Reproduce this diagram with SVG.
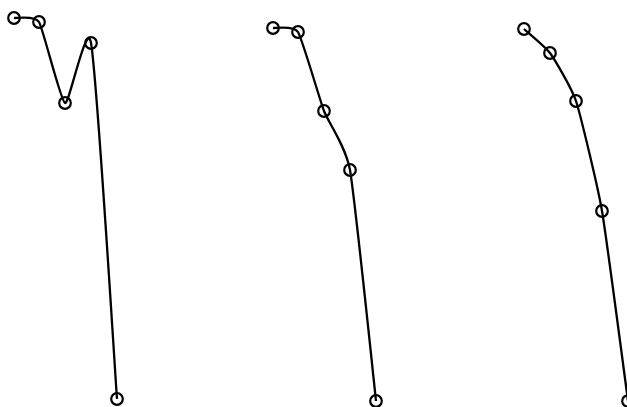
<svg xmlns="http://www.w3.org/2000/svg" width="627" height="407" viewBox="0 0 627 407">
<style>
.curve{fill:none;stroke:#000;stroke-width:2.3}
.pt{fill:none;stroke:#000;stroke-width:2.2}
</style>
<rect width="627" height="407" fill="#fff"/>
<g id="connectors">
<path class="curve" d="M14,18C16.08,18.33 34.75,14.92 39,22C43.25,29.08 60.67,101.25 65,103C69.33,104.75 86.67,18.33 91,43C97.24,78.5 113.9,356 117,399"/>
<path class="curve" d="M273,28C275.08,28.33 293.75,25.08 298,32C302.25,38.92 319.67,99.5 324,111C328.33,122.5 345.67,145.83 350,170C354.8,198 373.5,378 376,401"/>
<path class="curve" d="M524,29C526.17,31 545.67,47 550,53C554.33,59 571.67,87.83 576,101C580.33,114.17 597.67,186 602,211C606.33,236 625.83,385.17 628,401"/>
</g>
<g id="curve1-points">
<circle class="pt" cx="14" cy="18" r="5.8"/>
<circle class="pt" cx="39" cy="22" r="5.8"/>
<circle class="pt" cx="65" cy="103" r="5.8"/>
<circle class="pt" cx="91" cy="43" r="5.8"/>
<circle class="pt" cx="117" cy="399" r="5.8"/>
</g>
<g id="curve2-points">
<circle class="pt" cx="273" cy="28" r="5.8"/>
<circle class="pt" cx="298" cy="32" r="5.8"/>
<circle class="pt" cx="324" cy="111" r="5.8"/>
<circle class="pt" cx="350" cy="170" r="5.8"/>
<circle class="pt" cx="376" cy="401" r="5.8"/>
</g>
<g id="curve3-points">
<circle class="pt" cx="524" cy="29" r="5.8"/>
<circle class="pt" cx="550" cy="53" r="5.8"/>
<circle class="pt" cx="576" cy="101" r="5.8"/>
<circle class="pt" cx="602" cy="211" r="5.8"/>
<circle class="pt" cx="628" cy="401" r="5.8"/>
</g>
</svg>
